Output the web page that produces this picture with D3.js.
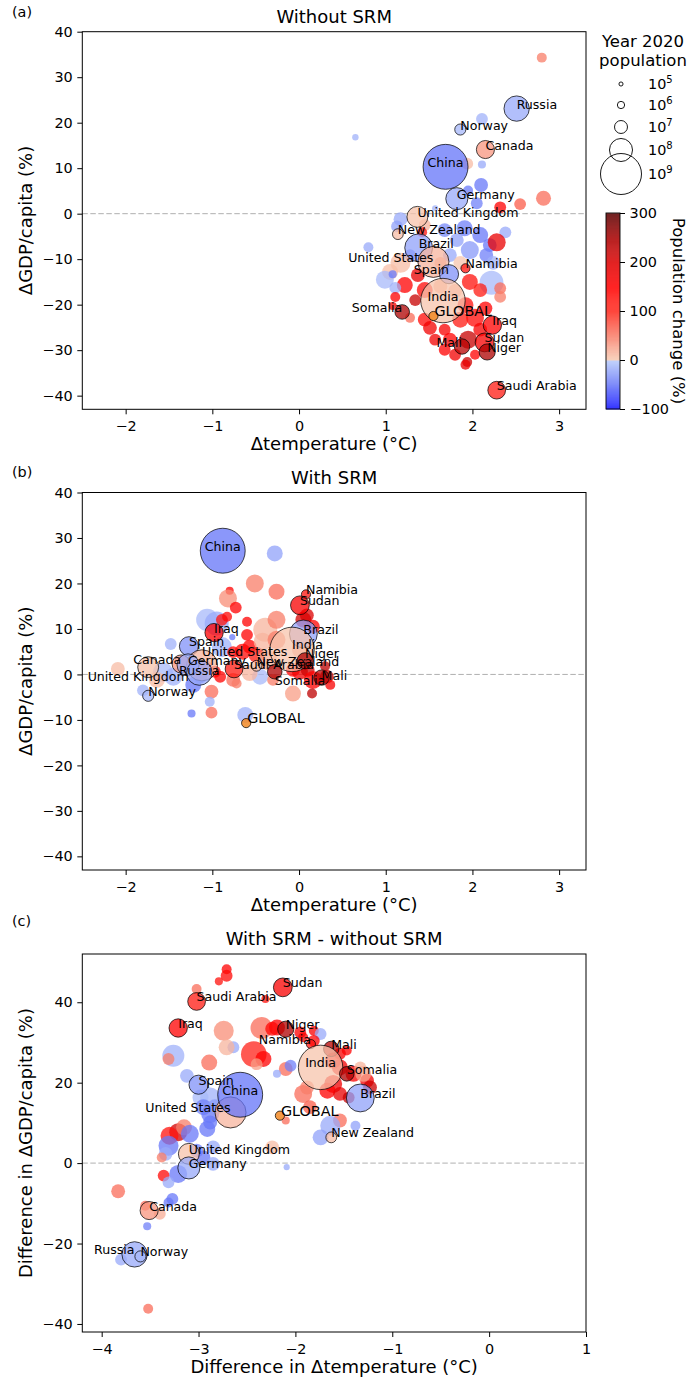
<!DOCTYPE html>
<html>
<head>
<meta charset="utf-8">
<script src="https://cdn.jsdelivr.net/npm/d3@7"></script>
<style>
  body { margin: 0; background: #fff; }
  text { font-family: "DejaVu Sans", sans-serif; fill: #000; }
</style>
</head>
<body>
<svg id="fig" width="690" height="1382"></svg>
<script>
// ---- data ----
const panelTags = ["(a)", "(b)", "(c)"];
const panelTitles = ["Without SRM", "With SRM", "With SRM - without SRM"];
const xTitles = ["\u0394temperature (\u00b0C)", "\u0394temperature (\u00b0C)", "Difference in \u0394temperature (\u00b0C)"];
const yTitles = ["\u0394GDP/capita (%)", "\u0394GDP/capita (%)", "Difference in \u0394GDP/capita (%)"];
const xTicksAB = [-2, -1, 0, 1, 2, 3];
const xTicksC = [-4, -3, -2, -1, 0, 1];
const yTicksAB = [-40, -30, -20, -10, 0, 10, 20, 30, 40];
const yTicksC = [-40, -20, 0, 20, 40];
const popLegend = [1e5, 1e6, 1e7, 1e8, 1e9];
const popLegendExp = ["5", "6", "7", "8", "9"];
const changeTicks = [-100, 0, 100, 200, 300];

// GLOBAL marker per panel [dT, dGDP]
const globalA = [1.55, -22.5];
const globalB = [-0.61, -10.7];
const globalC = [-2.16, 11.8];

// rows: name, dT (°C), dGDP/capita (%), 2020 population (millions), population change (%)
const pointsA = [
  ["", 2.80, 34.3, 3.5, 50], ["", 2.11, 20.8, 7, -15], ["", 0.65, 16.8, 0.6, -15],
  ["", 1.94, 11.0, 7, 10], ["", 2.11, 10.8, 1.5, -20], ["", 2.10, 6.3, 13, -50],
  ["", 1.95, 5.1, 3.5, -50], ["", 2.05, 2.3, 7, -45], ["", 2.32, 1.4, 7, 150],
  ["", 2.55, 2.1, 7, 70], ["", 2.82, 3.4, 18, 60], ["", 1.57, 1.2, 0.5, -15],
  ["", 1.17, -1.2, 13, -20], ["", 1.13, -2.8, 7, -25], ["", 1.45, -2.5, 7, 15],
  ["", 1.42, -4.1, 3.5, 130], ["", 1.68, -3.6, 13, -40], ["", 1.91, -3.2, 23, -45],
  ["", 2.09, -4.7, 23, -50], ["", 1.82, -5.8, 13, -25], ["", 2.20, -6.9, 13, -50],
  ["", 2.38, -4.1, 7, -20], ["", 1.97, -8.0, 37, -30], ["", 1.74, -9.1, 13, -20],
  ["", 2.16, -9.1, 13, -45], ["", 2.28, -6.3, 37, 180], ["", 0.80, -7.4, 3.5, -20],
  ["", 1.28, -9.1, 7, -40], ["", 1.63, -10.8, 7, 20], ["", 1.86, -10.8, 13, 5],
  ["", 1.17, -10.8, 57, 10], ["", 1.05, -12.8, 23, 8], ["", 0.99, -14.5, 37, -10],
  ["", 2.24, -10.8, 13, -15], ["", 2.22, -15.2, 117, -10], ["", 1.08, -13.3, 1.5, -50],
  ["", 1.63, -16.0, 13, 20], ["", 1.80, -17.0, 13, 15], ["", 1.22, -15.7, 23, 150],
  ["", 1.37, -13.5, 13, 180], ["", 1.45, -16.8, 23, 140], ["", 1.34, -19.0, 7, 220],
  ["", 1.11, -16.3, 7, -15], ["", 1.11, -18.3, 3.5, 150], ["", 1.08, -20.3, 1.5, 160],
  ["", 1.97, -15.0, 23, 130], ["", 2.09, -16.8, 13, 120], ["", 2.32, -16.4, 7, 60],
  ["", 2.32, -18.3, 7, 50], ["", 1.92, -20.1, 23, 130], ["", 2.03, -22.9, 37, 140],
  ["", 1.86, -23.3, 23, 120], ["", 2.15, -20.8, 13, 150], ["", 2.09, -25.5, 13, 160],
  ["", 1.45, -23.3, 13, 140], ["", 1.51, -25.1, 13, 170], ["", 1.68, -25.5, 7, 160],
  ["", 1.28, -22.9, 3.5, 60], ["", 1.57, -27.7, 7, 170], ["", 1.74, -27.7, 13, 150],
  ["", 1.95, -27.7, 37, 220], ["", 1.68, -29.9, 7, 150], ["", 1.80, -31.0, 7, 170],
  ["", 2.03, -31.0, 3.5, 150], ["", 1.94, -32.6, 3.5, 215], ["", 1.92, -33.2, 3.5, 180],
  ["Russia", 2.51, 23.1, 146, -20], ["Norway", 1.86, 18.5, 5.4, -12],
  ["Canada", 2.15, 14.1, 38, 35], ["China", 1.69, 10.3, 1440, -52],
  ["Germany", 1.82, 3.3, 84, -20], ["United Kingdom", 1.365, -0.7, 68, 6],
  ["New Zealand", 1.14, -4.5, 4.8, 10], ["Brazil", 1.38, -7.5, 213, -25],
  ["United States", 1.55, -10.6, 331, 15], ["Spain", 1.73, -13.3, 47, -35],
  ["Namibia", 1.92, -12.0, 2.5, 130], ["India", 1.66, -19.1, 1380, 5],
  ["Somalia", 1.19, -21.6, 16, 245], ["Iraq", 2.23, -24.5, 40, 150],
  ["Mali", 1.88, -29.2, 20, 235], ["Sudan", 2.14, -28.3, 44, 160],
  ["Niger", 2.17, -30.4, 24, 245], ["Saudi Arabia", 2.28, -38.8, 35, 120]
];

const pointsB = [
  ["", -0.28, 26.6, 23, -25], ["", -0.51, 20.0, 37, 50], ["", -0.26, 18.2, 23, 60],
  ["", -0.80, 18.4, 1.5, 150], ["", -0.82, 16.7, 37, 40], ["", -0.73, 14.7, 7, 150],
  ["", 0.05, 12.0, 23, 210], ["", 0.09, 13.0, 13, 200], ["", -1.06, 12.0, 83, -10],
  ["", -0.95, 11.2, 117, -20], ["", -0.89, 12.0, 7, 130], ["", -0.83, 12.7, 3.5, 140],
  ["", -0.60, 11.6, 3.5, 150], ["", -0.39, 9.8, 117, 15], ["", -0.26, 12.0, 37, 50],
  ["", 0.16, 10.5, 13, 150], ["", -1.48, 6.7, 7, -15], ["", -0.77, 8.2, 0.5, -50],
  ["", -0.89, 6.0, 57, -15], ["", -0.65, 5.0, 23, 140], ["", -0.57, 6.1, 13, 150],
  ["", -0.49, 4.3, 23, 120], ["", -0.37, 3.2, 57, 20], ["", -0.60, 8.7, 7, 150],
  ["", -0.42, 7.2, 37, 15], ["", -0.26, 7.6, 37, 50], ["", -0.76, 4.9, 7, 140],
  ["", 0.01, 5.4, 23, 25], ["", -1.07, 1.7, 7, 60], ["", -0.97, 0.6, 7, 140],
  ["", -2.09, 1.2, 13, 10], ["", -1.57, 0.5, 57, -10], ["", -1.45, -0.5, 37, -15],
  ["", -1.64, -1.2, 23, 10], ["", -1.22, -2.3, 23, -50], ["", -1.14, -0.5, 13, -45],
  ["", -1.80, -3.5, 7, -15], ["", -0.76, -1.2, 13, 60], ["", -0.91, -0.5, 7, 150],
  ["", -0.72, -2.0, 3.5, 50], ["", -0.45, -0.5, 23, -10], ["", -0.57, 0.3, 23, 15],
  ["", -0.30, -1.2, 7, 50], ["", -0.07, 1.0, 13, 150], ["", 0.01, 0.6, 23, 170],
  ["", 0.10, 1.0, 13, 215], ["", 0.16, -1.2, 37, 150], ["", 0.32, -0.5, 13, 220],
  ["", 0.36, -2.3, 3.5, 160], ["", 0.15, -4.2, 3.5, 230], ["", 0.30, 1.8, 3.5, 230],
  ["", -0.07, -4.2, 23, 30], ["", -1.01, -3.8, 13, 60], ["", -1.03, -6.0, 3.5, -15],
  ["", -1.24, -8.6, 1.5, -50], ["", -1.01, -8.4, 7, 60], ["", -0.62, -8.9, 23, -15],
  ["China", -0.88, 27.2, 1440, -52], ["Namibia", 0.08, 17.6, 2.5, 130],
  ["Sudan", 0.01, 15.2, 44, 160], ["Brazil", 0.05, 8.9, 213, -25],
  ["Iraq", -0.98, 9.2, 40, 150], ["India", -0.08, 5.5, 1380, 5],
  ["Spain", -1.27, 6.2, 47, -35], ["United States", -1.12, 2.0, 331, 15],
  ["Canada", -1.36, 2.3, 38, 35], ["Germany", -1.28, 2.1, 84, -20],
  ["Russia", -1.15, 0.4, 146, -20], ["United Kingdom", -1.74, 1.6, 68, 6],
  ["Norway", -1.74, -4.7, 5.4, -12], ["New Zealand", -0.49, 1.9, 4.8, 10],
  ["Saudi Arabia", -0.75, 1.2, 35, 120], ["Niger", 0.07, 3.0, 24, 245],
  ["Mali", 0.26, -0.7, 20, 235], ["Somalia", -0.28, 0.6, 16, 245]
];

const pointsC = [
  ["", -2.71, 48.2, 3.5, 150], ["", -2.71, 46.6, 7, 140], ["", -2.79, 45.2, 1.5, 130],
  ["", -3.02, 43.3, 3.5, 60], ["", -2.31, 40.8, 1.5, 130], ["", -2.74, 32.9, 57, 40],
  ["", -2.35, 33.6, 83, 60], ["", -2.19, 33.7, 23, 150], ["", -2.24, 33.4, 13, 140],
  ["", -1.95, 32.5, 7, 150], ["", -1.81, 32.9, 3.5, 160], ["", -1.74, 32.1, 7, -20],
  ["", -2.64, 28.8, 7, -20], ["", -2.71, 28.8, 23, 15], ["", -3.26, 26.7, 83, -15],
  ["", -3.31, 25.9, 7, 50], ["", -2.43, 27.1, 150, 110], ["", -2.33, 25.9, 23, 150],
  ["", -2.40, 24.6, 7, 30], ["", -2.89, 25.0, 23, 60], ["", -2.10, 23.4, 13, 60],
  ["", -2.05, 24.2, 7, -45], ["", -2.19, 22.2, 1.5, -20], ["", -3.12, 21.7, 13, -20],
  ["", -1.81, 30.4, 7, 150], ["", -1.92, 31.3, 3.5, 160], ["", -1.61, 25.5, 23, 150],
  ["", -1.54, 23.8, 23, 170], ["", -1.40, 22.2, 23, 160], ["", -1.26, 20.5, 13, 170],
  ["", -1.23, 18.8, 13, 215], ["", -1.61, 19.7, 37, 170], ["", -1.67, 18.0, 23, 150],
  ["", -1.54, 17.2, 13, 180], ["", -1.45, 16.3, 7, 220], ["", -1.30, 22.2, 23, 25],
  ["", -1.33, 23.8, 7, 15], ["", -1.47, 28.0, 3.5, 150], ["", -1.54, 27.2, 7, 160],
  ["", -1.92, 17.2, 37, 60], ["", -1.88, 18.8, 13, 50], ["", -1.85, 13.9, 13, 70],
  ["", -1.54, 10.6, 13, 60], ["", -1.64, 9.3, 57, -20], ["", -1.74, 6.4, 23, -25],
  ["", -1.38, 9.3, 3.5, -25], ["", -2.10, 10.6, 1.5, 60], ["", -2.88, 16.3, 57, -15],
  ["", -2.98, 16.3, 23, -10], ["", -2.95, 13.9, 23, -45], ["", -2.88, 12.2, 37, -50],
  ["", -2.88, 10.1, 13, -50], ["", -2.91, 8.5, 23, -50], ["", -2.83, 13.9, 23, -30],
  ["", -3.21, 7.7, 37, 210], ["", -3.30, 6.8, 37, 130], ["", -3.15, 8.9, 23, 50],
  ["", -3.09, 7.3, 37, -50], ["", -3.31, 4.3, 57, -50], ["", -3.34, 2.3, 13, -20],
  ["", -3.38, 1.4, 3.5, 50], ["", -3.02, 3.1, 13, -45], ["", -2.85, 3.9, 13, -20],
  ["", -2.95, 1.4, 13, -50], ["", -2.24, 3.9, 13, 10], ["", -2.09, -1.0, 0.5, -20],
  ["", -3.36, -3.1, 7, 140], ["", -3.21, -2.7, 37, -50], ["", -2.85, -0.2, 13, -20],
  ["", -3.31, -4.8, 7, -20], ["", -3.83, -7.0, 13, 60], ["", -3.27, -8.9, 7, -50],
  ["", -3.31, -9.8, 3.5, -50], ["", -3.55, -10.6, 3.5, 60], ["", -3.40, -12.6, 7, 20],
  ["", -3.53, -15.7, 1.5, -45], ["", -3.80, -24.0, 7, -20], ["", -3.52, -36.2, 3.5, 60],
  ["Sudan", -2.13, 43.7, 44, 160], ["Saudi Arabia", -3.02, 40.2, 35, 120],
  ["Iraq", -3.21, 33.6, 40, 150], ["Niger", -2.10, 33.3, 24, 245],
  ["Namibia", -1.84, 29.6, 2.5, 130], ["Mali", -1.63, 28.4, 20, 235],
  ["India", -1.74, 23.8, 1380, 5], ["Somalia", -1.47, 22.2, 16, 245],
  ["Brazil", -1.33, 16.2, 213, -25], ["Spain", -3.00, 19.5, 47, -35],
  ["United States", -2.67, 12.6, 331, 15], ["China", -2.57, 17.0, 1440, -52],
  ["New Zealand", -1.63, 6.4, 4.8, 10], ["United Kingdom", -3.10, 2.3, 68, 6],
  ["Germany", -3.10, -1.2, 84, -20], ["Canada", -3.51, -11.8, 38, 35],
  ["Russia", -3.66, -22.7, 146, -20], ["Norway", -3.60, -23.2, 5.4, -12]
];

// label placement: [text-anchor, dx px, dy px]
const labelPlaceA = {
  "Russia": ["start", 0, 0], "Norway": ["start", 0, 0], "Canada": ["start", 0, 0],
  "China": ["middle", 0, 0], "Germany": ["start", 0, 0], "United Kingdom": ["start", 0, 0],
  "New Zealand": ["start", 0, 0], "Brazil": ["start", 0, 0], "United States": ["end", 0, 0],
  "Spain": ["end", 0, 0], "Namibia": ["start", 0, 0], "India": ["middle", 0, 0],
  "Somalia": ["end", 0, 0], "Iraq": ["start", 0, 0], "Mali": ["end", 0, 0],
  "Sudan": ["start", 0, 0], "Niger": ["start", 0, 0], "Saudi Arabia": ["start", 0, 0]
};
const labelPlaceB = {
  "China": ["middle", 0, 0], "Namibia": ["start", 0, 0], "Sudan": ["start", 0, 0],
  "Brazil": ["start", 0, 0], "Iraq": ["start", 0, 0], "India": ["start", 0, 0],
  "Spain": ["start", 0, 0], "United States": ["start", 0, -9], "Canada": ["end", 0, 0],
  "Germany": ["start", 0, 0], "Russia": ["middle", 0, 2], "United Kingdom": ["middle", -10, 14],
  "Norway": ["start", 0, 0], "New Zealand": ["start", 0, 0], "Saudi Arabia": ["start", 0, 0],
  "Niger": ["start", 0, -3], "Mali": ["start", 0, 2], "Somalia": ["start", 0, 13]
};
const labelPlaceC = {
  "Sudan": ["start", 0, 0], "Saudi Arabia": ["start", 0, 0], "Iraq": ["start", 0, 0],
  "Niger": ["start", 0, 0], "Namibia": ["end", 0, 0], "Mali": ["start", 0, 0],
  "India": ["middle", 0, 0], "Somalia": ["start", 0, 0], "Brazil": ["start", 0, 0],
  "Spain": ["start", 0, 0], "United States": ["end", 0, 0], "China": ["middle", 0, 0],
  "New Zealand": ["start", 0, 0], "United Kingdom": ["start", 0, 0], "Germany": ["start", 0, 0],
  "Canada": ["start", 0, 0], "Russia": ["end", 0, 0], "Norway": ["start", 0, 0]
};

// ---- scales shared by all panels ----
const svg = d3.select("#fig");
const ALPHA = 0.75;

const colour = d3.scaleLinear()
  .domain([-100, -50, -0.01, 0, 50, 100, 150, 200, 250, 300])
  .range(["#1010ff", "#6878f8", "#b8cbf9", "#f7ccb4", "#f87d68", "#ff2a1e", "#ff0000", "#dc0000", "#a80000", "#5a0000"])
  .clamp(true);

const radius = d3.scalePow().exponent(0.25).domain([0, 1e9]).range([0, 20.5]);

const minus = d => (d < 0 ? "\u2212" + Math.abs(d) : String(d));

const panels = [
  { tag: 0, data: pointsA, place: labelPlaceA, glob: globalA, left: 82.3, right: 586, top: 31.7, bottom: 409.3,
    xd: [-2.5, 3.31], yd: [-43, 40], xt: xTicksAB, yt: yTicksAB, titleY: 23, tagY: 17 },
  { tag: 1, data: pointsB, place: labelPlaceB, glob: globalB, left: 82.3, right: 586, top: 492.5, bottom: 870,
    xd: [-2.5, 3.31], yd: [-43, 40], xt: xTicksAB, yt: yTicksAB, titleY: 484, tagY: 477 },
  { tag: 2, data: pointsC, place: labelPlaceC, glob: globalC, left: 82.3, right: 586, top: 954, bottom: 1332,
    xd: [-4.2, 1], yd: [-42, 52], xt: xTicksC, yt: yTicksC, titleY: 945, tagY: 926 }
];

panels.forEach(drawPanel);
drawSizeLegend();
drawColorbar();

function drawPanel(p) {
  const x = d3.scaleLinear().domain(p.xd).range([p.left, p.right]);
  const y = d3.scaleLinear().domain(p.yd).range([p.bottom, p.top]);
  const g = svg.append("g");

  g.append("clipPath").attr("id", "clip" + p.tag)
    .append("rect").attr("x", p.left).attr("y", p.top)
    .attr("width", p.right - p.left).attr("height", p.bottom - p.top);

  // zero line
  g.append("line")
    .attr("x1", p.left).attr("x2", p.right)
    .attr("y1", y(0)).attr("y2", y(0))
    .attr("stroke", "#b0b0b0").attr("stroke-width", 1)
    .attr("stroke-dasharray", "5.5,2.5");

  const rows = p.data.map(d => ({ name: d[0], t: d[1], v: d[2], pop: d[3] * 1e6, chg: d[4] }));
  const plot = g.append("g").attr("clip-path", `url(#clip${p.tag})`);

  plot.selectAll("circle.plain")
    .data(rows.filter(d => !d.name))
    .join("circle")
    .attr("class", "plain")
    .attr("cx", d => x(d.t)).attr("cy", d => y(d.v))
    .attr("r", d => radius(d.pop))
    .attr("fill", d => colour(d.chg)).attr("fill-opacity", ALPHA);

  const named = rows.filter(d => d.name);
  plot.selectAll("circle.named")
    .data(named)
    .join("circle")
    .attr("class", "named")
    .attr("cx", d => x(d.t)).attr("cy", d => y(d.v))
    .attr("r", d => radius(d.pop))
    .attr("fill", d => colour(d.chg)).attr("fill-opacity", ALPHA)
    .attr("stroke", "#000").attr("stroke-opacity", 0.8).attr("stroke-width", 0.9);

  // GLOBAL
  plot.append("circle")
    .attr("cx", x(p.glob[0])).attr("cy", y(p.glob[1])).attr("r", 4.6)
    .attr("fill", "#f28a26").attr("fill-opacity", 0.85)
    .attr("stroke", "#000").attr("stroke-opacity", 0.8).attr("stroke-width", 0.9);

  g.selectAll("text.lab")
    .data(named)
    .join("text")
    .attr("class", "lab")
    .attr("x", d => x(d.t) + p.place[d.name][1])
    .attr("y", d => y(d.v) + p.place[d.name][2])
    .attr("text-anchor", d => p.place[d.name][0])
    .attr("font-size", 12.6)
    .text(d => d.name);

  g.append("text")
    .attr("x", x(p.glob[0]) + 1).attr("y", y(p.glob[1]))
    .attr("font-size", 14.4)
    .text("GLOBAL");

  // axes
  const ax = g.append("g")
    .attr("transform", `translate(0,${p.bottom})`)
    .call(d3.axisBottom(x).tickValues(p.xt).tickFormat(minus).tickSize(5).tickPadding(6.5));
  const ay = g.append("g")
    .attr("transform", `translate(${p.left},0)`)
    .call(d3.axisLeft(y).tickValues(p.yt).tickFormat(minus).tickSize(5).tickPadding(4.6));
  [ax, ay].forEach(a => {
    a.select(".domain").remove();
    a.attr("font-family", null).attr("font-size", null);
    a.selectAll("line").attr("stroke", "#000").attr("stroke-width", 1);
    a.selectAll("text").attr("font-size", 14.4).attr("fill", "#000");
  });

  g.append("rect")
    .attr("x", p.left).attr("y", p.top)
    .attr("width", p.right - p.left).attr("height", p.bottom - p.top)
    .attr("fill", "none").attr("stroke", "#000").attr("stroke-width", 1);

  // titles
  g.append("text")
    .attr("x", (p.left + p.right) / 2).attr("y", p.titleY)
    .attr("text-anchor", "middle").attr("font-size", 18)
    .text(panelTitles[p.tag]);
  g.append("text")
    .attr("x", 12).attr("y", p.tagY)
    .attr("font-size", 14.4)
    .text(panelTags[p.tag]);
  g.append("text")
    .attr("x", (p.left + p.right) / 2).attr("y", p.bottom + 41)
    .attr("text-anchor", "middle").attr("font-size", 18)
    .text(xTitles[p.tag]);
  g.append("text")
    .attr("transform", `translate(32,${(p.top + p.bottom) / 2}) rotate(-90)`)
    .attr("text-anchor", "middle").attr("font-size", 18)
    .text(yTitles[p.tag]);
}

function drawSizeLegend() {
  const g = svg.append("g");
  const cx = 621;
  const ys = [84, 105, 127, 150, 174];
  g.append("text").attr("x", 643).attr("y", 47).attr("text-anchor", "middle")
    .attr("font-size", 16.5).text("Year 2020");
  g.append("text").attr("x", 643).attr("y", 66).attr("text-anchor", "middle")
    .attr("font-size", 16.5).text("population");
  g.selectAll("circle")
    .data(popLegend)
    .join("circle")
    .attr("cx", cx).attr("cy", (d, i) => ys[i])
    .attr("r", d => radius(d))
    .attr("fill", "none").attr("stroke", "#000").attr("stroke-width", 0.9);
  const t = g.selectAll("text.pl")
    .data(popLegend)
    .join("text")
    .attr("class", "pl")
    .attr("x", 648).attr("y", (d, i) => ys[i] + 5)
    .attr("font-size", 14.4);
  t.append("tspan").text("10");
  t.append("tspan").attr("dy", -6).attr("font-size", 10).text((d, i) => popLegendExp[i]);
}

function drawColorbar() {
  const x0 = 606, w = 14, top = 213, bottom = 409;
  const cy = d3.scaleLinear().domain([-100, 300]).range([bottom, top]);
  const g = svg.append("g");
  const steps = d3.range(-100, 300, 2);
  g.selectAll("rect.cb")
    .data(steps)
    .join("rect")
    .attr("class", "cb")
    .attr("x", x0).attr("width", w)
    .attr("y", d => cy(d + 2)).attr("height", d => cy(d) - cy(d + 2) + 0.6)
    .attr("fill", d => colour(d + 1)).attr("fill-opacity", ALPHA);
  g.append("rect").attr("x", x0).attr("y", top).attr("width", w).attr("height", bottom - top)
    .attr("fill", "none").attr("stroke", "#000").attr("stroke-width", 0.9);
  const ax = g.append("g").attr("transform", `translate(${x0 + w},0)`)
    .call(d3.axisRight(cy).tickValues(changeTicks).tickFormat(minus).tickSize(5).tickPadding(4.5));
  ax.select(".domain").remove();
  ax.attr("font-family", null).attr("font-size", null);
  ax.selectAll("line").attr("stroke", "#000");
  ax.selectAll("text").attr("font-size", 14.4).attr("fill", "#000");
  g.append("text")
    .attr("transform", `translate(673,${(top + bottom) / 2}) rotate(90)`)
    .attr("text-anchor", "middle").attr("font-size", 16.5)
    .text("Population change (%)");
}
</script>
</body>
</html>
